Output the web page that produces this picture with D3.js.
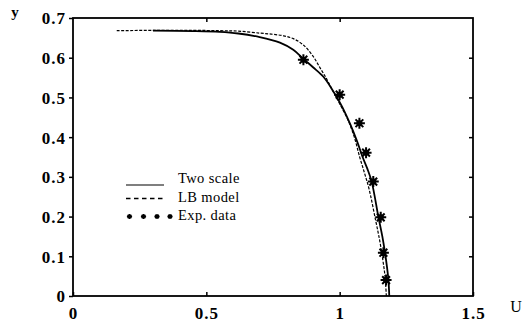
<!DOCTYPE html>
<html><head><meta charset="utf-8">
<script src="https://cdn.jsdelivr.net/npm/d3@7"></script>
<style>
html,body{margin:0;padding:0;background:#fff;}
svg{display:block;}
text{font-family:"Liberation Serif","Times New Roman",serif;fill:#000;}
</style></head>
<body>
<svg id="chart" width="525" height="325"></svg>
<script>
// ---- data ----
const xTicks = [0, 0.5, 1, 1.5];
const yTicks = [0, 0.1, 0.2, 0.3, 0.4, 0.5, 0.6, 0.7];
const xTickLabels = ["0", "0.5", "1", "1.5"];
const yTickLabels = ["0", "0.1", "0.2", "0.3", "0.4", "0.5", "0.6", "0.7"];

const twoScaleU = [0.30,0.45,0.55,0.62,0.70,0.776,0.826,0.864,0.90,0.939,0.97,1.00,1.02,1.04,1.065,1.086,1.104,1.12,1.145,1.16,1.17,1.178,1.183,1.186];
const twoScaleY = [0.668,0.667,0.665,0.661,0.652,0.638,0.620,0.597,0.576,0.552,0.522,0.488,0.462,0.432,0.390,0.350,0.320,0.288,0.200,0.150,0.109,0.070,0.040,0.000];

const lbU = [0.164,0.30,0.45,0.55,0.62,0.70,0.75,0.79,0.826,0.864,0.90,0.926,0.95,0.97,1.00,1.03,1.055,1.075,1.093,1.11,1.135,1.15,1.162,1.17,1.175];
const lbY = [0.668,0.669,0.669,0.668,0.667,0.662,0.659,0.655,0.648,0.632,0.604,0.575,0.548,0.522,0.484,0.445,0.400,0.350,0.310,0.270,0.190,0.140,0.090,0.050,0.000];

const expU = [0.864,1.00,1.074,1.099,1.126,1.154,1.164,1.174];
const expY = [0.595,0.507,0.435,0.361,0.288,0.198,0.109,0.040];

const legendLabels = ["Two scale", "LB model", "Exp. data"];

// ---- layout ----
const svg = d3.select("#chart");
const L = 73, R = 473, T = 18, B = 296;
const x = d3.scaleLinear().domain([0, 1.5]).range([L, R]);
const y = d3.scaleLinear().domain([0, 0.7]).range([B, T]);

// frame
svg.append("rect").attr("x", L).attr("y", T).attr("width", R - L).attr("height", B - T)
  .attr("fill", "none").attr("stroke", "#000").attr("stroke-width", 1.8);

// axes
const axB = svg.append("g").attr("transform", `translate(0,${B})`)
  .call(d3.axisBottom(x).tickValues(xTicks).tickSizeInner(-4).tickSizeOuter(0)
    .tickFormat((d, i) => xTickLabels[i]).tickPadding(11));
const axT = svg.append("g").attr("transform", `translate(0,${T})`)
  .call(d3.axisTop(x).tickValues(xTicks.slice(1, 3)).tickSizeInner(-4).tickSizeOuter(0).tickFormat(""));
const axL = svg.append("g").attr("transform", `translate(${L},0)`)
  .call(d3.axisLeft(y).tickValues(yTicks).tickSizeInner(4).tickSizeOuter(0)
    .tickFormat((d, i) => yTickLabels[i]).tickPadding(3));
const axR = svg.append("g").attr("transform", `translate(${R},0)`)
  .call(d3.axisRight(y).tickValues(yTicks.slice(1, 7)).tickSizeInner(-4).tickSizeOuter(0).tickFormat(""));

[axB, axT, axL, axR].forEach(g => {
  g.select(".domain").remove();
  g.selectAll(".tick line").attr("stroke", "#000").attr("stroke-width", 1.5);
  g.selectAll("text").attr("font-size", 17).attr("font-weight", "bold")
    .attr("letter-spacing", 1).attr("fill", "#000");
});
axL.selectAll("text").attr("dy", "0.35em");
axB.selectAll("text").attr("dy", "0.71em");

// axis titles
svg.append("text").attr("x", 15).attr("y", 17).attr("text-anchor", "middle")
  .attr("font-size", 15).attr("font-weight", "bold").text("y");
svg.append("text").attr("x", 516).attr("y", 312).attr("text-anchor", "middle")
  .attr("font-size", 16).text("U");

// lines
const line = d3.line().x(d => x(d[0])).y(d => y(d[1])).curve(d3.curveCatmullRom);
const solid = twoScaleU.map((u, i) => [u, twoScaleY[i]]);
const dashed = lbU.map((u, i) => [u, lbY[i]]);
svg.append("path").attr("d", line(dashed)).attr("fill", "none")
  .attr("stroke", "#000").attr("stroke-width", 1.2).attr("stroke-dasharray", "3,1.5");
svg.append("path").attr("d", line(solid)).attr("fill", "none")
  .attr("stroke", "#000").attr("stroke-width", 1.8);

// stars
function star(r) {
  let p = "";
  for (let k = 0; k < 4; k++) {
    const a = k * Math.PI / 4;
    const dx = r * Math.cos(a), dy = r * Math.sin(a);
    p += `M${-dx},${-dy}L${dx},${dy}`;
  }
  return p;
}
const exp = expU.map((u, i) => [u, expY[i]]);
const sg = svg.append("g");
sg.selectAll("path").data(exp).join("path")
  .attr("transform", d => `translate(${x(d[0])},${y(d[1])})`)
  .attr("d", star(5.5)).attr("stroke", "#000").attr("stroke-width", 2).attr("fill", "none");
sg.selectAll("circle").data(exp).join("circle")
  .attr("cx", d => x(d[0])).attr("cy", d => y(d[1])).attr("r", 3).attr("fill", "#000");

// legend
const lx0 = 126, lx1 = 164, tx = 178;
const ly = [185, 198.5, 216.5];
const tb = [183, 201.5, 220];
svg.append("line").attr("x1", lx0).attr("x2", lx1).attr("y1", ly[0]).attr("y2", ly[0])
  .attr("stroke", "#000").attr("stroke-width", 1.2);
svg.append("line").attr("x1", lx0).attr("x2", lx1).attr("y1", ly[1]).attr("y2", ly[1])
  .attr("stroke", "#000").attr("stroke-width", 1.5).attr("stroke-dasharray", "4.5,3.5");
[129.5, 143.5, 157, 170].forEach(cx => {
  svg.append("path").attr("transform", `translate(${cx},${ly[2]})`).attr("d", star(2.6))
    .attr("stroke", "#000").attr("stroke-width", 1.4);
});
legendLabels.forEach((t, i) => {
  svg.append("text").attr("x", tx).attr("y", tb[i]).attr("font-size", 14.5)
    .attr("letter-spacing", 0.4).text(t);
});
</script>
</body></html>
